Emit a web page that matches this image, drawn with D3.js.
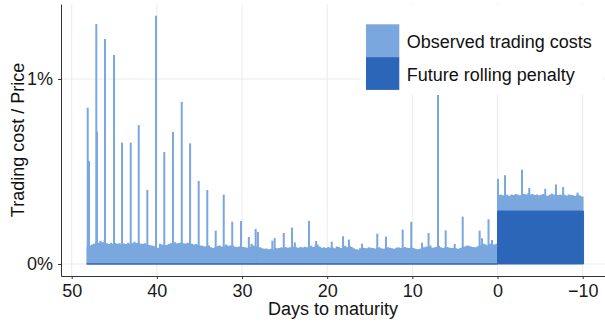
<!DOCTYPE html>
<html>
<head>
<meta charset="utf-8">
<script src="https://cdn.jsdelivr.net/npm/d3@7"></script>
<style>
  body { margin: 0; background: #fff; }
  svg { display: block; font-family: "Liberation Sans", Arial, sans-serif; }
  .grid line { stroke: #ebebeb; stroke-width: 1; }
  .axis path, .axis line { stroke: #333; stroke-width: 1; }
  .axis text { font-size: 18px; fill: #1a1a1a; }
  .title { font-size: 18px; fill: #111; }
</style>
</head>
<body>
<svg id="chart" width="605" height="328"></svg>
<script>
// observed trading cost / price (%), one value every quarter day from 48.25 days to maturity
const gridStart = 48.25;
const gridStep = 0.25;
const gridEnd = -10.1;
const observedCosts = [
  0.095, 0.100, 0.105, 0.110, 0.120, 0.115, 0.125, 0.118, 0.128, 0.112, 0.108, 0.115, 0.110, 0.113, 0.109, 0.112, 0.106, 0.111,
  0.108, 0.115, 0.110, 0.112, 0.120, 0.113, 0.116, 0.110, 0.109, 0.112, 0.105, 0.103, 0.100, 0.098, 0.090, 0.088,
  0.110, 0.105, 0.100, 0.103, 0.108, 0.112, 0.109, 0.118, 0.112, 0.113, 0.117, 0.112, 0.111, 0.115, 0.108, 0.110, 0.105, 0.108,
  0.102, 0.100, 0.098, 0.095, 0.097, 0.100, 0.090, 0.087, 0.093, 0.097, 0.100, 0.095, 0.098, 0.105, 0.098, 0.100, 0.102, 0.095,
  0.092, 0.095, 0.098, 0.092, 0.090, 0.088, 0.093, 0.110, 0.100, 0.095, 0.092, 0.090, 0.085, 0.082, 0.084, 0.080, 0.082, 0.078,
  0.088, 0.085, 0.087, 0.090, 0.086, 0.092, 0.088, 0.090, 0.087, 0.095, 0.090, 0.088, 0.092, 0.089, 0.093, 0.091, 0.090, 0.098,
  0.092, 0.100, 0.105, 0.095, 0.088, 0.090, 0.086, 0.092, 0.088, 0.090, 0.085, 0.095, 0.092, 0.087, 0.095, 0.098, 0.090, 0.100,
  0.092, 0.085, 0.080, 0.078, 0.085, 0.088, 0.087, 0.085, 0.090, 0.088, 0.086, 0.084, 0.088, 0.090, 0.085, 0.083, 0.087, 0.090,
  0.088, 0.085, 0.083, 0.088, 0.090, 0.087, 0.085, 0.092, 0.088, 0.086, 0.090, 0.087, 0.083, 0.080, 0.082, 0.086, 0.090, 0.095,
  0.092, 0.100, 0.088, 0.090, 0.093, 0.098, 0.090, 0.087, 0.090, 0.092, 0.088, 0.086, 0.088, 0.085, 0.083, 0.086, 0.090, 0.095,
  0.100, 0.098, 0.095, 0.092, 0.090, 0.094, 0.100, 0.105, 0.110, 0.105, 0.100, 0.110, 0.108, 0.105, 0.110,
  0.085, 0.090, 0.085, 0.095, 0.088, 0.083, 0.090, 0.087, 0.092, 0.090, 0.085, 0.088, 0.092, 0.090, 0.096, 0.089, 0.093, 0.087, 0.090, 0.085,
  0.088, 0.092, 0.086, 0.083, 0.088, 0.095, 0.090, 0.093, 0.087, 0.090, 0.085, 0.088, 0.084, 0.090, 0.087, 0.085, 0.082, 0.090, 0.085, 0.080, 0.078
];

// isolated spikes of the observed costs
const spikeDays = [48.12, 47.97, 47.11, 47.03, 46.09, 45.03, 44.09, 43.07, 42.13, 41.12, 40.10, 39.13, 38.11, 37.08, 36.10,
  35.09, 34.08, 33.09, 32.15, 31.15, 30.12, 29.20, 28.40, 28.13, 26.44, 26.17, 25.10, 24.13, 23.80, 22.14, 21.30, 19.47,
  18.14, 17.45, 15.92, 14.12, 13.10, 11.14, 10.13, 8.87, 8.10, 6.99, 6.09, 5.03, 4.09, 2.10, 1.83, 1.06, 0.65,
  -0.05, -0.88, -2.87, -3.73, -5.60, -6.86, -7.70, -9.40];
const spikeCosts = [0.845, 0.557, 1.297, 0.715, 1.216, 1.130, 0.656, 0.656, 0.751, 0.400, 1.342, 0.605, 0.714, 0.876, 0.652,
  0.449, 0.400, 0.180, 0.375, 0.229, 0.232, 0.146, 0.189, 0.173, 0.126, 0.140, 0.168, 0.197, 0.117, 0.233, 0.124, 0.121,
  0.150, 0.132, 0.110, 0.164, 0.148, 0.186, 0.228, 0.115, 0.168, 1.050, 0.182, 0.108, 0.256, 0.180, 0.139, 0.242, 0.130,
  0.174, 0.194, 0.224, 0.125, 0.120, 0.144, 0.130, 0.100];

// future rolling penalty (%), step function
const penaltyDays = [48.25, 0, -10.1];
const penaltyValues = [0, 0.286, 0.286];

const xTicks = [50, 40, 30, 20, 10, 0, -10];
const yTicks = [0, 1];
const legendLabels = ["Observed trading costs", "Future rolling penalty"];
const colors = ["#7ba7df", "#2b66b8"];

/** Class drawing the trading cost chart. */
class CostChart {
    constructor() {
        this.svg = d3.select("#chart");
        this.margin = {top: 4, right: 0, bottom: 52, left: 61};
        this.width = 605 - this.margin.left - this.margin.right;
        this.height = 328 - this.margin.top - this.margin.bottom;
        this.x = d3.scaleLinear().domain([51.256, -12.618]).range([0, this.width]);
        this.y = d3.scaleLinear().domain([-0.0649, 1.4054]).range([this.height, 0]);
        this.g = this.svg.append("g")
          .attr("transform", `translate(${this.margin.left},${this.margin.top})`);
    }

    /** penalty level in force at a given day */
    penaltyAt(day) {
        let v = 0;
        penaltyDays.forEach((d, i) => { if (day <= d) v = penaltyValues[i]; });
        return v;
    }

    drawGrid() {
        const grid = this.g.append("g").attr("class", "grid");
        grid.selectAll(".vx").data(xTicks).enter().append("line")
          .attr("x1", d => this.x(d)).attr("x2", d => this.x(d))
          .attr("y1", 0).attr("y2", this.height);
        grid.selectAll(".hy").data(yTicks).enter().append("line")
          .attr("x1", 0).attr("x2", this.width)
          .attr("y1", d => this.y(d)).attr("y2", d => this.y(d));
    }

    drawSeries() {
        const x = this.x, y = this.y;

        // stacked: observed costs sit on top of the penalty
        const obs = observedCosts.map((v, i) => {
            const day = gridStart - i * gridStep;
            return {day: day, total: this.penaltyAt(day) + v};
        });
        obs.push({day: gridEnd, total: obs[obs.length - 1].total});

        const area = d3.area()
          .x(d => x(d.day))
          .y0(y(0))
          .y1(d => y(d.total))
          .curve(d3.curveStepAfter);

        this.g.append("path")
          .datum(obs)
          .attr("fill", colors[0])
          .attr("d", area);

        this.g.selectAll(".spike")
          .data(spikeDays.map((d, i) => ({day: d, total: this.penaltyAt(d) + spikeCosts[i]})))
          .enter()
          .append("rect")
          .attr("class", "spike")
          .attr("fill", colors[0])
          .attr("x", d => x(d.day) - 1)
          .attr("width", 2)
          .attr("y", d => y(d.total))
          .attr("height", d => y(0) - y(d.total));

        const pen = penaltyDays.map((d, i) => ({day: d, total: penaltyValues[i]}));
        this.g.append("path")
          .datum(pen)
          .attr("fill", colors[1])
          .attr("stroke", colors[1])
          .attr("stroke-width", 1)
          .attr("d", area);
    }

    drawAxes() {
        const xAxis = d3.axisBottom(this.x).tickValues(xTicks)
          .tickFormat(d3.format("d")).tickSize(3).tickSizeOuter(0).tickPadding(5);
        const yAxis = d3.axisLeft(this.y).tickValues(yTicks)
          .tickFormat(d => d + "%").tickSize(3).tickSizeOuter(0).tickPadding(5);

        this.g.append("g").attr("class", "axis")
          .attr("transform", `translate(0,${this.height})`)
          .call(xAxis);
        this.g.append("g").attr("class", "axis").call(yAxis);
        this.g.selectAll(".axis text").style("font-size", "18px");
        this.g.selectAll(".axis .domain").attr("stroke", "#333");

        this.svg.append("text").attr("class", "title")
          .attr("x", this.margin.left + this.width / 2).attr("y", 315)
          .attr("text-anchor", "middle")
          .text("Days to maturity");
        this.svg.append("text").attr("class", "title")
          .attr("transform", `translate(24,${this.margin.top + this.height / 2}) rotate(-90)`)
          .attr("text-anchor", "middle")
          .text("Trading cost / Price");
    }

    drawLegend() {
        const lg = this.svg.append("g").attr("transform", "translate(361,5)");
        lg.append("rect").attr("width", 242).attr("height", 90).attr("fill", "#fff");
        const items = lg.selectAll(".item").data(legendLabels).enter().append("g")
          .attr("transform", (d, i) => `translate(5,${19.3 + i * 32.8})`);
        items.append("rect")
          .attr("width", 33.3).attr("height", 32.8)
          .attr("fill", (d, i) => colors[i]);
        items.append("text")
          .attr("x", 40.7).attr("y", 23.5)
          .style("font-size", "18px").attr("fill", "#111")
          .text(d => d);
    }
}

const chart = new CostChart();
chart.drawGrid();
chart.drawSeries();
chart.drawAxes();
chart.drawLegend();
</script>
</body>
</html>
